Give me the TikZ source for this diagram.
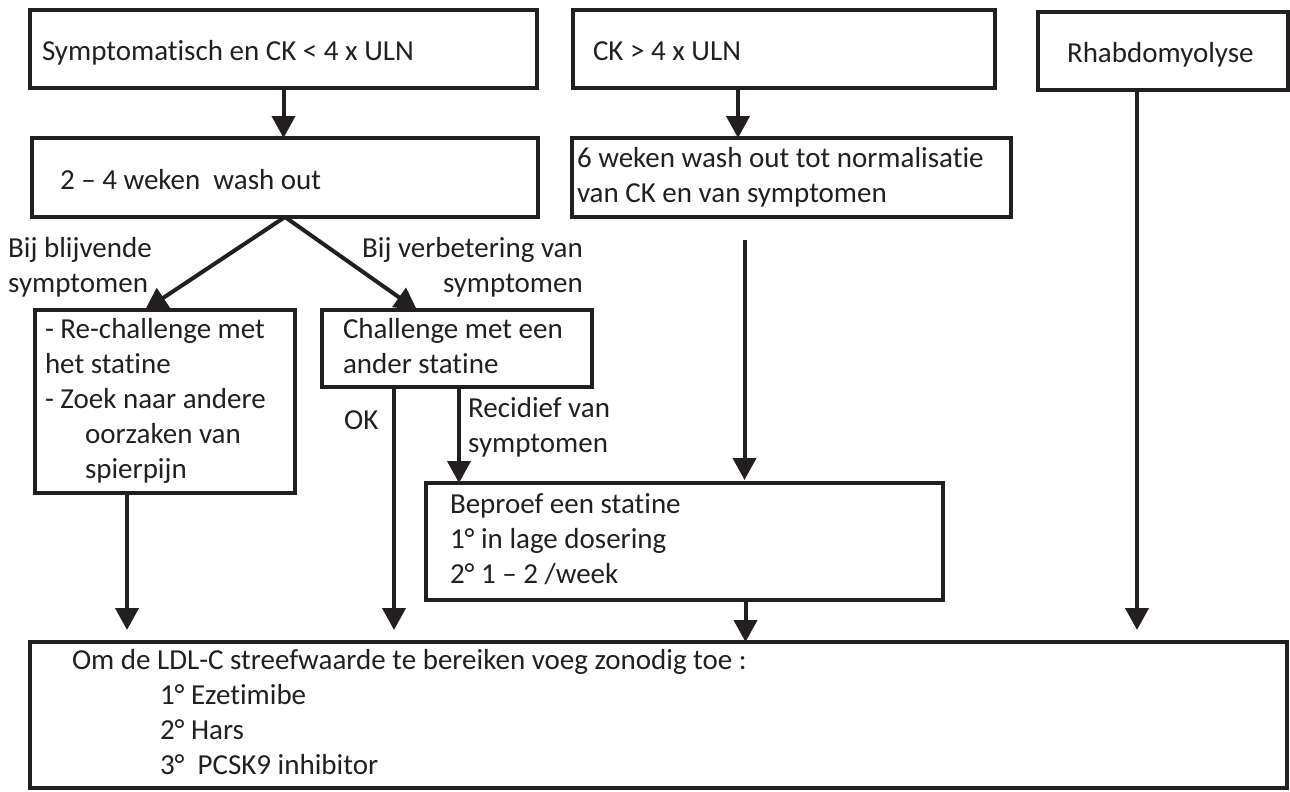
\documentclass[tikz,border=0pt]{standalone}
\usepackage{fontspec}
\setmainfont{Carlito}[Ligatures=NoCommon]
\usepackage{tikz}
\usetikzlibrary{arrows.meta}
\definecolor{lijn}{HTML}{231F20}
\newcommand{\tekstfont}{\fontsize{29}{35}\selectfont}
\tikzset{
  doos/.style={draw=lijn, line width=4pt, anchor=north west, outer sep=0pt, inner ysep=0pt,
    align=left, text=lijn, font=\tekstfont,
    execute at begin node={\spaceskip=0pt\xspaceskip=0pt\strut}, execute at end node=\strut},
  enkel/.style={text depth=1pt},
  pijl/.style={draw=lijn, line width=4pt, -{Triangle[length=22pt,width=23pt]}},
  tekst/.style={inner sep=0pt, text=lijn, font=\tekstfont}
}
\begin{document}
\begin{tikzpicture}[x=1pt,y=-1pt]
\useasboundingbox (0,0) rectangle (1290,792);

\node[doos, enkel, minimum width=507pt, minimum height=78pt, inner xsep=12pt, text width=483pt] (sympt) at (30,10) {Symptomatisch en CK < 4 x ULN};
\node[doos, enkel, minimum width=506pt, minimum height=79pt, inner xsep=28pt, text width=450pt] (wash) at (32,138) {2 – 4 weken~ wash out};
\node[doos, enkel, minimum width=422pt, minimum height=78pt, inner xsep=20pt, text width=382pt] (ckhoog) at (573,10) {CK > 4 x ULN};
\node[doos, minimum width=439pt, minimum height=79pt, inner xsep=5pt, text width=429pt] (normal) at (572,138) {6 weken wash out tot normalisatie\\van CK en van symptomen};
\node[doos, enkel, minimum width=250pt, minimum height=78pt, inner xsep=29pt, text width=192pt] (rhabdo) at (1038,12) {Rhabdomyolyse};
\node[doos, minimum width=260pt, minimum height=183pt, inner xsep=10pt, text width=240pt] (rechal) at (35,310) {- Re-challenge met\\het statine\\- Zoek naar andere\\\hspace*{40pt}oorzaken van\\\hspace*{40pt}spierpijn};
\node[doos, minimum width=270pt, minimum height=77pt, inner xsep=21pt, text width=228pt] (chal) at (322,310) {Challenge met een\\ander statine};
\node[doos, minimum width=517pt, minimum height=117pt, inner xsep=24pt, text width=469pt] (beproef) at (426,483) {Beproef een statine\\1° in lage dosering\\2° 1 – 2 /week};
\node[doos, minimum width=1257pt, minimum height=146pt, inner xsep=42pt, text width=1173pt] (ldl) at (30,642) {Om de LDL-C streefwaarde te bereiken voeg zonodig toe :\\\hspace*{88pt}1° Ezetimibe\\\hspace*{88pt}2° Hars\\\hspace*{88pt}3°~ PCSK9 inhibitor};

\node[tekst, anchor=north west, align=left] (blijv) at (8,237) {Bij blijvende\\symptomen};
\node[tekst, anchor=north east, align=right] (verb) at (583,237) {Bij verbetering van\\symptomen};
\node[tekst, anchor=north west] (ok) at (344,410) {OK};
\node[tekst, anchor=north west, align=left] (recid) at (468,397) {Recidief van\\symptomen};

\draw[pijl] (sympt.south) -- (sympt.south |- wash.north);
\draw[pijl] ([xshift=-46pt]ckhoog.south) -- ([xshift=-46pt]ckhoog.south |- normal.north);
\draw[pijl] (wash.south) -- ([xshift=-20pt]rechal.north);
\draw[pijl] (wash.south) -- ([xshift=-40pt]chal.north);
\draw[pijl, shorten >=12pt] ([xshift=-38pt]rechal.south) -- ([xshift=-38pt]rechal.south |- ldl.north);
\draw[pijl, shorten >=12pt] ([xshift=-63pt]chal.south) -- ([xshift=-63pt]chal.south |- ldl.north);
\draw[pijl] ([xshift=2pt]chal.south) -- ([xshift=2pt]chal.south |- beproef.north);
\draw[pijl, shorten <=23pt, shorten >=3pt] ([xshift=-47pt]normal.south) -- ([xshift=-47pt]normal.south |- beproef.north);
\draw[pijl] ([xshift=61pt]beproef.south) -- ([xshift=61pt]beproef.south |- ldl.north);
\draw[pijl, shorten >=12pt] ([xshift=-26pt]rhabdo.south) -- ([xshift=-26pt]rhabdo.south |- ldl.north);
\end{tikzpicture}
\end{document}
